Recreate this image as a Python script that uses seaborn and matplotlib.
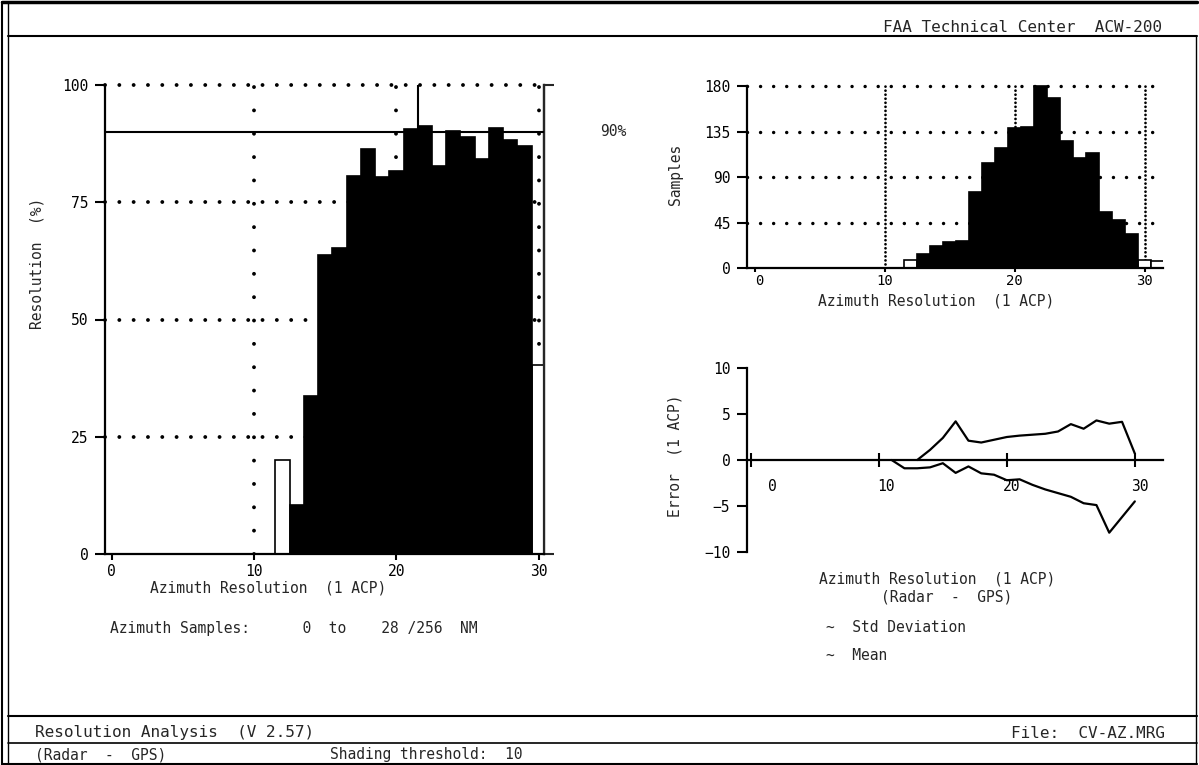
import numpy as np
import pandas as pd
import matplotlib
matplotlib.use("Agg")
import matplotlib.pyplot as plt
from matplotlib.lines import Line2D
import matplotlib.transforms as mtransforms
import seaborn as sns

# ---- data -------------------------------------------------------------
# resolution (%) per azimuth-resolution bin (1 ACP)
res_bins = list(range(12, 31))
res_pct = [20.0, 10.5, 33.6, 63.8, 65.2, 80.6, 86.3, 80.3, 81.7, 90.6,
           91.3, 82.7, 90.1, 89.0, 84.2, 90.8, 88.3, 87.0, 40.3]

# number of samples per bin
hist_bins = list(range(12, 32))
hist_samples = [8, 14, 22, 25.6, 27, 75, 104, 119, 138, 139,
                180, 168, 126, 109, 114, 55, 47, 34, 7.6, 6.6]

# error statistics (Radar - GPS), 1 ACP
std_bins = list(range(13, 31))
std_dev = [0.0, 1.1, 2.4, 4.2, 2.1, 1.9, 2.2, 2.5, 2.65, 2.75,
           2.85, 3.1, 3.9, 3.4, 4.3, 3.95, 4.15, 0.7]
mean_bins = list(range(11, 31))
mean_err = [0.0, -0.9, -0.9, -0.8, -0.35, -1.4, -0.7, -1.45, -1.6, -2.2,
            -2.1, -2.7, -3.2, -3.6, -4.0, -4.7, -4.9, -7.9, -6.2, -4.5]

shading_threshold = 10
resolution_target = 90

# ---- style ------------------------------------------------------------
sns.set_style("white")
plt.rcParams["font.family"] = ["DejaVu Sans Mono"]
plt.rcParams["lines.scale_dashes"] = False
FS = 10.5

W, H = 1199, 765
fig = plt.figure(figsize=(W / 100, H / 100), dpi=100)

def fx(px):
    return px / W

def fy(py):
    return 1 - py / H

def dotted_h(ax, y, spacing, lw=2.3):
    ax.axhline(y, color="black", lw=lw, linestyle=(0, (0.01, spacing)),
               dash_capstyle="round", zorder=1, clip_on=False)

def dotted_v(ax, x, spacing, lw=2.3):
    ax.axvline(x, color="black", lw=lw, linestyle=(0, (0.01, spacing)),
               dash_capstyle="round", zorder=1)

def style_axes(ax):
    for s in ("top", "right"):
        ax.spines[s].set_visible(False)
    for s in ("left", "bottom"):
        ax.spines[s].set_linewidth(1.6)
        ax.spines[s].set_color("black")
    ax.tick_params(colors="black", labelsize=FS, width=1.5,
                   left=True, bottom=True)

def shift_labels(ax, dx_px):
    # nudge x tick labels sideways by a few pixels each
    for lab, dx in zip(ax.get_xticklabels(), dx_px):
        off = mtransforms.ScaledTranslation(dx / 100, 0, fig.dpi_scale_trans)
        lab.set_transform(lab.get_transform() + off)

samples_lookup = dict(zip(hist_bins, hist_samples))

# ---- left: resolution chart --------------------------------------------
ax1 = fig.add_axes([fx(105), fy(554), fx(544) - fx(105), fy(85) - fy(554)])
style_axes(ax1)
ax1.spines["right"].set_visible(True)
ax1.spines["right"].set_linewidth(1.6)

df_res = pd.DataFrame({
    "bin": res_bins,
    "pct": res_pct,
    "shaded": [samples_lookup[b] >= shading_threshold for b in res_bins],
})
for y in (25, 50, 75, 100):
    dotted_h(ax1, y, 10.3, lw=2.8)
for x in (10, 20, 30):
    dotted_v(ax1, x, 16.8, lw=2.8)
ax1.vlines(21.5, resolution_target, 100, color="black", lw=1.5, zorder=1)
sns.barplot(data=df_res, x="bin", y="pct", hue="shaded",
            palette={True: "black", False: "white"}, native_scale=True,
            width=1, dodge=False, edgecolor="black", linewidth=1.2,
            legend=False, ax=ax1, zorder=2)
ax1.axhline(resolution_target, color="black", lw=1.5, zorder=3)
ax1.set_xlim(-0.47, 30.37)
ax1.set_ylim(0, 100)
ax1.set_yticks([0, 25, 50, 75, 100])
ax1.set_xticks([0, 10, 20, 30])
ax1.tick_params(axis="y", direction="out", length=7, pad=5)
ax1.tick_params(axis="x", direction="out", length=4, pad=3)
ax1.set_xlabel("")
ax1.set_ylabel("")
sec = ax1.secondary_yaxis("right")
sec.set_yticks([0, 100])
sec.set_yticklabels(["", ""])
sec.tick_params(direction="out", length=7, width=1.5, right=True)
sec.spines["right"].set_linewidth(1.6)
trans1 = mtransforms.blended_transform_factory(ax1.transAxes, ax1.transData)
ax1.text(1.128, resolution_target, f"{resolution_target}%", transform=trans1,
         va="center", ha="left", fontsize=FS)

fig.text(fx(37), fy(263), "Resolution  (%)", rotation=90, ha="center",
         va="center", fontsize=FS)
fig.text(fx(268), fy(588), "Azimuth Resolution  (1 ACP)", ha="center",
         va="center", fontsize=FS)
fig.text(fx(110), fy(628), "Azimuth Samples:      0  to    28 /256  NM",
         ha="left", va="center", fontsize=FS)

# ---- top right: sample histogram ---------------------------------------
ax2 = fig.add_axes([fx(747), fy(268), fx(1163) - fx(747), fy(85) - fy(268)])
style_axes(ax2)
df_hist = pd.DataFrame({
    "bin": hist_bins,
    "samples": hist_samples,
    "shaded": [s >= shading_threshold for s in hist_samples],
})
for y in (45, 90, 135, 180):
    dotted_h(ax2, y, 9.4, lw=2.5)
for x in (10, 20, 30):
    dotted_v(ax2, x, 2.9, lw=2.0)
sns.barplot(data=df_hist, x="bin", y="samples", hue="shaded",
            palette={True: "black", False: "white"}, native_scale=True,
            width=1, dodge=False, edgecolor="black", linewidth=1.2,
            legend=False, ax=ax2, zorder=2)
ax2.set_xlim(-0.6, 31.4)
ax2.set_ylim(0, 181)
ax2.spines["left"].set_bounds(0, 180)
ax2.set_yticks([0, 45, 90, 135, 180])
ax2.set_xticks([0, 10, 20, 30])
ax2.tick_params(axis="y", direction="out", length=7, pad=5)
ax2.tick_params(axis="x", direction="out", length=3, pad=1, labelsize=10)
ax2.set_xlabel("")
ax2.set_ylabel("")
shift_labels(ax2, [5, 0, 0, 0])
fig.text(fx(676), fy(174), "Samples", rotation=90, ha="center",
         va="center", fontsize=FS)
fig.text(fx(936), fy(301), "Azimuth Resolution  (1 ACP)", ha="center",
         va="center", fontsize=FS)

# ---- bottom right: error statistics ------------------------------------
ax3 = fig.add_axes([fx(747), fy(552), fx(1163) - fx(747), fy(368) - fy(552)])
style_axes(ax3)
ax3.spines["bottom"].set_position(("data", 0))
df_std = pd.DataFrame({"bin": std_bins, "err": std_dev})
df_mean = pd.DataFrame({"bin": mean_bins, "err": mean_err})
sns.lineplot(data=df_std, x="bin", y="err", color="black", lw=1.6, ax=ax3)
sns.lineplot(data=df_mean, x="bin", y="err", color="black", lw=1.6, ax=ax3)
ax3.set_xlim(-0.3, 32.2)
ax3.set_ylim(-10, 10)
ax3.set_yticks([-10, -5, 0, 5, 10])
ax3.set_xticks([0, 10, 20, 30])
ax3.tick_params(axis="y", direction="out", length=7, pad=5)
ax3.tick_params(axis="x", direction="inout", length=10, pad=9)
ax3.set_xlabel("")
ax3.set_ylabel("")
shift_labels(ax3, [22, 7, 5, 5])
fig.text(fx(675), fy(456), "Error  (1 ACP)", rotation=90, ha="center",
         va="center", fontsize=FS)
fig.text(fx(937), fy(579), "Azimuth Resolution  (1 ACP)", ha="center",
         va="center", fontsize=FS)
fig.text(fx(947), fy(597), "(Radar  -  GPS)", ha="center", va="center",
         fontsize=FS)
fig.text(fx(826), fy(627), "~  Std Deviation", ha="left", va="center",
         fontsize=FS)
fig.text(fx(826), fy(656), "~  Mean", ha="left", va="center", fontsize=FS)

# ---- page frame, header and footer -------------------------------------
def hline(py, x0=2, x1=1197, lw=1.5):
    fig.add_artist(Line2D([fx(x0), fx(x1)], [fy(py), fy(py)],
                          color="black", lw=lw))

def vline(px, y0, y1, lw=1.2):
    fig.add_artist(Line2D([fx(px), fx(px)], [fy(y0), fy(y1)],
                          color="black", lw=lw))

hline(2, lw=2.5)
hline(36, x0=8, lw=1.5)
hline(716, x0=8, lw=1.5)
hline(743, x0=8, lw=1.2)
hline(764, lw=1.5)
vline(2, 2, 765, lw=1.5)
vline(8, 2, 765, lw=1.0)
vline(1196, 36, 765, lw=1.0)

fig.text(fx(1162), fy(27), "FAA Technical Center  ACW-200", ha="right",
         va="center", fontsize=11.5)
fig.text(fx(35), fy(733), "Resolution Analysis  (V 2.57)", ha="left",
         va="center", fontsize=11.5)
fig.text(fx(1165), fy(733), "File:  CV-AZ.MRG", ha="right", va="center",
         fontsize=11.5)
fig.text(fx(35), fy(755), "(Radar  -  GPS)", ha="left", va="center",
         fontsize=FS)
fig.text(fx(330), fy(754), "Shading threshold:  10", ha="left",
         va="center", fontsize=FS)

fig.savefig("out.png", dpi=100, facecolor="white")
